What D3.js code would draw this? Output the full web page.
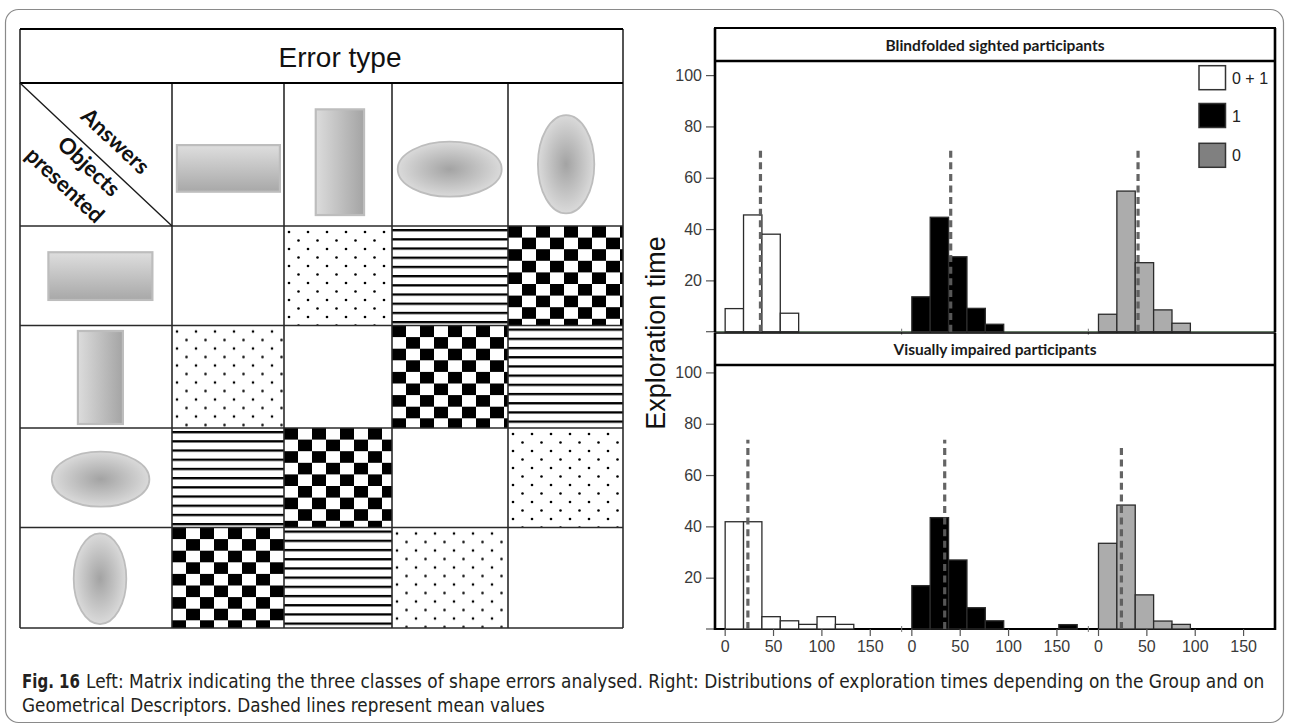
<!DOCTYPE html>
<html>
<head>
<meta charset="utf-8">
<script src="https://cdn.jsdelivr.net/npm/d3@7"></script>
<style>
  html, body { margin: 0; padding: 0; background: #ffffff; }
  svg { display: block; }
</style>
</head>
<body>
<div id="fig"></div>
<script>
// ---------- data ----------
const groupTitles = ["Blindfolded sighted participants", "Visually impaired participants"];
const descriptorLabels = ["0 + 1", "1", "0"];
const descriptorFills = ["#ffffff", "#000000", "#acacac"];
const legendFills = ["#ffffff", "#000000", "#808080"];

// histogram counts per bin (bins of binWidth seconds starting at binStart)
const binStart = 0.5;
const binWidth = 19;
const sightedCounts = [
  [9, 45.5, 38, 7.2],
  [13.6, 44.6, 29.2, 9.1, 2.9],
  [6.8, 54.8, 26.9, 8.5, 3.3]
];
const impairedCounts = [
  [41.8, 41.8, 4.8, 3.2, 1.8, 4.8, 1.8],
  [16.9, 43.4, 26.9, 8.3, 3.2, 0, 0, 0, 1.7],
  [33.4, 48.3, 13.3, 3.1, 1.8]
];
// mean exploration times (dashed lines) and the height each dashed line reaches
const sightedMeans = [37, 40.7, 41.4];
const impairedMeans = [24, 34.5, 24.2];
const sightedMeanTop = [71.5, 71.5, 71.5];
const impairedMeanTop = [73.8, 73.8, 70.6];

const yTicks = [20, 40, 60, 80, 100];
const xTicks = [0, 50, 100, 150];
const xDomain = [-10, 183];

// error-type matrix: shapes and error classes
const shapeKinds = ["hrect", "vrect", "hellipse", "vellipse"];
const errorMatrix = [
  ["none", "dots", "lines", "checker"],
  ["dots", "none", "checker", "lines"],
  ["lines", "checker", "none", "dots"],
  ["checker", "lines", "dots", "none"]
];

const captionLead = "Fig. 16";
const captionLines = [
  "Left: Matrix indicating the three classes of shape errors analysed. Right: Distributions of exploration times depending on the Group and on",
  "Geometrical Descriptors. Dashed lines represent mean values"
];

// ---------- svg ----------
const W = 1290, H = 728;
const svg = d3.select("#fig").append("svg").attr("width", W).attr("height", H);
const defs = svg.append("defs");

svg.append("rect").attr("x", 5.5).attr("y", 9.5).attr("width", 1278).attr("height", 713)
  .attr("rx", 13).attr("fill", "none").attr("stroke", "#8a8a8a").attr("stroke-width", 1.2);

// ---------- gradients for the shape glyphs ----------
const lg1 = defs.append("linearGradient").attr("id", "gradH").attr("x1", 0).attr("y1", 0).attr("x2", 0).attr("y2", 1);
lg1.append("stop").attr("offset", "0%").attr("stop-color", "#dedede");
lg1.append("stop").attr("offset", "100%").attr("stop-color", "#a8a8a8");
const lg2 = defs.append("linearGradient").attr("id", "gradV").attr("x1", 0).attr("y1", 0).attr("x2", 1).attr("y2", 0);
lg2.append("stop").attr("offset", "0%").attr("stop-color", "#dcdcdc");
lg2.append("stop").attr("offset", "100%").attr("stop-color", "#a4a4a4");
const rg = defs.append("radialGradient").attr("id", "gradR").attr("cx", "50%").attr("cy", "50%").attr("r", "50%");
rg.append("stop").attr("offset", "0%").attr("stop-color", "#a3a3a3");
rg.append("stop").attr("offset", "100%").attr("stop-color", "#dadada");

function drawShape(g, kind, cx, cy, w, h) {
  const st = "#bdbdbd";
  if (kind === "hrect") {
    g.append("rect").attr("x", cx - w / 2).attr("y", cy - h / 2).attr("width", w).attr("height", h)
      .attr("fill", "url(#gradH)").attr("stroke", st).attr("stroke-width", 2.2);
  } else if (kind === "vrect") {
    g.append("rect").attr("x", cx - w / 2).attr("y", cy - h / 2).attr("width", w).attr("height", h)
      .attr("fill", "url(#gradV)").attr("stroke", st).attr("stroke-width", 2.2);
  } else {
    g.append("ellipse").attr("cx", cx).attr("cy", cy).attr("rx", w / 2).attr("ry", h / 2)
      .attr("fill", "url(#gradR)").attr("stroke", st).attr("stroke-width", 1.8);
  }
}

// ---------- matrix ----------
const colX = [20, 172, 284, 392, 508, 623];
const rowY = [29, 83, 226, 325.5, 428, 527.5, 628];
const mat = svg.append("g");

// error-class patterns, anchored per cell
function makePattern(id, kind, x0, y0) {
  if (kind === "checker") {
    const sw = 14, sh = 11.6;
    const p = defs.append("pattern").attr("id", id).attr("patternUnits", "userSpaceOnUse")
      .attr("x", x0).attr("y", y0).attr("width", sw * 2).attr("height", sh * 2);
    p.append("rect").attr("width", sw * 2).attr("height", sh * 2).attr("fill", "#fff");
    p.append("rect").attr("x", 0).attr("y", 0).attr("width", sw).attr("height", sh).attr("fill", "#000");
    p.append("rect").attr("x", sw).attr("y", sh).attr("width", sw).attr("height", sh).attr("fill", "#000");
  } else if (kind === "lines") {
    const per = 9.2;
    const p = defs.append("pattern").attr("id", id).attr("patternUnits", "userSpaceOnUse")
      .attr("x", x0).attr("y", y0 + 3).attr("width", 20).attr("height", per);
    p.append("rect").attr("width", 20).attr("height", per).attr("fill", "#fff");
    p.append("rect").attr("x", 0).attr("y", 0).attr("width", 20).attr("height", 2.3).attr("fill", "#000");
  } else if (kind === "dots") {
    const px = 19, py = 17;
    const p = defs.append("pattern").attr("id", id).attr("patternUnits", "userSpaceOnUse")
      .attr("x", x0 + 3).attr("y", y0 + 4).attr("width", px).attr("height", py);
    p.append("rect").attr("width", px).attr("height", py).attr("fill", "#fff");
    p.append("circle").attr("cx", 2).attr("cy", 2).attr("r", 1.3).attr("fill", "#000");
    p.append("circle").attr("cx", 2 + px / 2).attr("cy", 2 + py / 2).attr("r", 1.3).attr("fill", "#000");
  }
}

errorMatrix.forEach((row, r) => {
  row.forEach((kind, c) => {
    const x0 = colX[c + 1], y0 = rowY[r + 2];
    const w = colX[c + 2] - x0, h = rowY[r + 3] - y0;
    let fill = "#fff";
    if (kind !== "none") {
      const id = `pat-${r}-${c}`;
      makePattern(id, kind, x0, y0);
      fill = `url(#${id})`;
    }
    mat.append("rect").attr("x", x0).attr("y", y0).attr("width", w).attr("height", h).attr("fill", fill);
  });
});

// header glyphs (answers) and row glyphs (objects presented)
const headGlyphs = [
  { cx: 228.4, cy: 168.4, w: 103, h: 46.6 },
  { cx: 339.9, cy: 162.2, w: 48.3, h: 105.7 },
  { cx: 449.7, cy: 169.2, w: 104, h: 55 },
  { cx: 566.1, cy: 164.2, w: 56.4, h: 98.3 }
];
const rowGlyphs = [
  { cx: 100.4, cy: 276.1, w: 104, h: 47.7 },
  { cx: 100.4, cy: 377.5, w: 45, h: 93 },
  { cx: 100.6, cy: 479.2, w: 97.6, h: 55 },
  { cx: 100, cy: 578.7, w: 52.6, h: 90.7 }
];
shapeKinds.forEach((k, i) => {
  drawShape(mat, k, headGlyphs[i].cx, headGlyphs[i].cy, headGlyphs[i].w, headGlyphs[i].h);
  drawShape(mat, k, rowGlyphs[i].cx, rowGlyphs[i].cy, rowGlyphs[i].w, rowGlyphs[i].h);
});

// grid lines
const gridColor = "#2a2a2a";
colX.forEach((x, i) => {
  mat.append("line").attr("x1", x).attr("x2", x)
    .attr("y1", (i === 0 || i === colX.length - 1) ? rowY[0] : rowY[1]).attr("y2", rowY[rowY.length - 1])
    .attr("stroke", gridColor).attr("stroke-width", 1.6);
});
rowY.forEach((y, i) => {
  mat.append("line").attr("x1", colX[0]).attr("x2", colX[colX.length - 1]).attr("y1", y).attr("y2", y)
    .attr("stroke", i < 2 ? "#000" : gridColor).attr("stroke-width", i < 2 ? 2.2 : 1.6);
});
// diagonal header cell
mat.append("line").attr("x1", colX[0]).attr("y1", rowY[1]).attr("x2", colX[1]).attr("y2", rowY[2])
  .attr("stroke", "#1a1a1a").attr("stroke-width", 1.4);

mat.append("text").attr("x", 340).attr("y", 57).attr("text-anchor", "middle").attr("dominant-baseline", "central")
  .attr("font-family", "Liberation Sans, Arial, sans-serif").attr("font-size", 28).attr("fill", "#111")
  .text("Error type");

const diagAngle = Math.atan2(rowY[2] - rowY[1], colX[1] - colX[0]) * 180 / Math.PI;
[["Answers", 116, 140.5], ["Objects", 89.5, 165.7], ["presented", 65.5, 184.5]].forEach(([t, x, y]) => {
  mat.append("text").attr("transform", `translate(${x},${y}) rotate(${diagAngle})`)
    .attr("text-anchor", "middle").attr("dominant-baseline", "central")
    .attr("font-family", "Lato, 'Open Sans', sans-serif").attr("font-weight", 700)
    .attr("font-size", 22).attr("fill", "#111").text(t);
});

// ---------- histograms ----------
const plotLeft = 715, plotRight = 1275;
const subW = (plotRight - plotLeft) / 3;
const panelsLayout = [
  { headTop: 28, headBottom: 61, base: 331.7, counts: sightedCounts, means: sightedMeans, meanTop: sightedMeanTop, axis: false },
  { headTop: 333, headBottom: 365, base: 629, counts: impairedCounts, means: impairedMeans, meanTop: impairedMeanTop, axis: true }
];
const pxPerUnit = 2.566;
const chart = svg.append("g");

panelsLayout.forEach((P, pi) => {
  const y = d3.scaleLinear().domain([0, 100]).range([P.base, P.base - 100 * pxPerUnit]);
  const g = chart.append("g");

  // y axis
  const ya = g.append("g").attr("transform", `translate(${plotLeft},0)`)
    .call(d3.axisLeft(y).tickValues(yTicks).tickSize(9).tickPadding(4).tickFormat(d3.format("d")));
  ya.select(".domain").remove();
  ya.selectAll(".tick line").attr("stroke", "#555").attr("stroke-width", 1.2);
  ya.selectAll(".tick text").attr("font-family", "Liberation Sans, Arial, sans-serif").attr("font-size", 16).attr("fill", "#3a3a3a");
  // zero tick without label
  g.append("line").attr("x1", plotLeft - 9).attr("x2", plotLeft).attr("y1", y(0)).attr("y2", y(0))
    .attr("stroke", "#555").attr("stroke-width", 1.2);

  // baseline
  g.append("line").attr("x1", plotLeft).attr("x2", plotRight).attr("y1", y(0)).attr("y2", y(0))
    .attr("stroke", P.axis ? "#000" : "#6b7f6b").attr("stroke-width", P.axis ? 2 : 1.2);

  for (let k = 0; k < 3; k++) {
    const x = d3.scaleLinear().domain(xDomain).range([plotLeft + k * subW, plotLeft + (k + 1) * subW]);
    const vals = P.counts[k];
    const bars = vals.map((v, i) => ({ v, x0: binStart + i * binWidth, x1: binStart + (i + 1) * binWidth })).filter(d => d.v > 0);
    g.append("g").selectAll("rect").data(bars).join("rect")
      .attr("x", d => x(d.x0)).attr("width", d => x(d.x1) - x(d.x0))
      .attr("y", d => y(d.v)).attr("height", d => y(0) - y(d.v))
      .attr("fill", descriptorFills[k]).attr("stroke", "#2b2b2b").attr("stroke-width", 1.3);

    // mean line
    g.append("line").attr("x1", x(P.means[k])).attr("x2", x(P.means[k]))
      .attr("y1", y(0)).attr("y2", y(P.meanTop[k]))
      .attr("stroke", "#5c5c5c").attr("stroke-width", 3.2).attr("stroke-dasharray", "7,4.6")
      .attr("opacity", 0.95);

    if (P.axis) {
      const xa = g.append("g").attr("transform", `translate(0,${y(0)})`)
        .call(d3.axisBottom(x).tickValues(xTicks).tickSize(7).tickPadding(5));
      xa.select(".domain").remove();
      xa.selectAll(".tick line").attr("stroke", "#555").attr("stroke-width", 1.2);
      xa.selectAll(".tick text").attr("font-family", "Liberation Sans, Arial, sans-serif").attr("font-size", 16).attr("fill", "#3a3a3a");
    }
    if (k > 0) {
      g.append("line").attr("x1", plotLeft + k * subW).attr("x2", plotLeft + k * subW)
        .attr("y1", y(0) - 3).attr("y2", y(0) + 3).attr("stroke", "#777").attr("stroke-width", 1);
    }
  }

  // header strip and frame
  g.append("rect").attr("x", plotLeft).attr("y", P.headTop).attr("width", plotRight - plotLeft).attr("height", P.headBottom - P.headTop)
    .attr("fill", "none").attr("stroke", "#000").attr("stroke-width", pi === 0 ? 2 : 1.5);
  g.append("line").attr("x1", plotLeft).attr("x2", plotRight).attr("y1", P.headBottom).attr("y2", P.headBottom)
    .attr("stroke", "#000").attr("stroke-width", 2.6);
  [plotLeft, plotRight].forEach(xx => {
    g.append("line").attr("x1", xx).attr("x2", xx).attr("y1", P.headTop).attr("y2", P.base + (P.axis ? 1 : 0.5))
      .attr("stroke", "#000").attr("stroke-width", 2.6);
  });
  g.append("text").attr("x", (plotLeft + plotRight) / 2).attr("y", (P.headTop + P.headBottom) / 2)
    .attr("text-anchor", "middle").attr("dominant-baseline", "central")
    .attr("font-family", "Lato, 'Open Sans', sans-serif").attr("font-weight", 700).attr("font-size", 15.5)
    .attr("fill", "#1a1a1a").text(groupTitles[pi]);
});

// legend
const legTop = [65.7, 103.5, 143.3];
descriptorLabels.forEach((lab, i) => {
  chart.append("rect").attr("x", 1199).attr("y", legTop[i]).attr("width", 26.5).attr("height", 24)
    .attr("fill", legendFills[i]).attr("stroke", "#333").attr("stroke-width", 1.5);
  chart.append("text").attr("x", 1232).attr("y", legTop[i] + 12.5).attr("dominant-baseline", "central")
    .attr("font-family", "Liberation Sans, Arial, sans-serif").attr("font-size", 16).attr("fill", "#222").text(lab);
});

// y axis title
chart.append("text").attr("transform", "translate(665,333) rotate(-90)").attr("text-anchor", "middle")
  .attr("font-family", "Liberation Sans, Arial, sans-serif").attr("font-size", 27).attr("fill", "#111")
  .text("Exploration time");

// ---------- caption ----------
// narrow caption face: each line is drawn at its natural width, then squeezed horizontally to its measure
const capFont = "'Liberation Sans Narrow', 'DejaVu Sans Condensed', 'Liberation Sans', sans-serif";
function fittedLine(text, x, y, width, bold) {
  const g = svg.append("g");
  const t = g.append("text").attr("x", 0).attr("y", 0).attr("font-family", capFont)
    .attr("font-weight", bold ? 700 : 400).attr("font-size", 19.5).attr("fill", "#231f20").text(text);
  const natural = t.node().getComputedTextLength();
  g.attr("transform", `translate(${x},${y}) scale(${width / natural},1)`);
}
fittedLine(captionLead, 22, 688, 58, true);
fittedLine(captionLines[0], 86, 688, 1179, false);
fittedLine(captionLines[1], 22, 712, 523, false);
</script>
</body>
</html>
